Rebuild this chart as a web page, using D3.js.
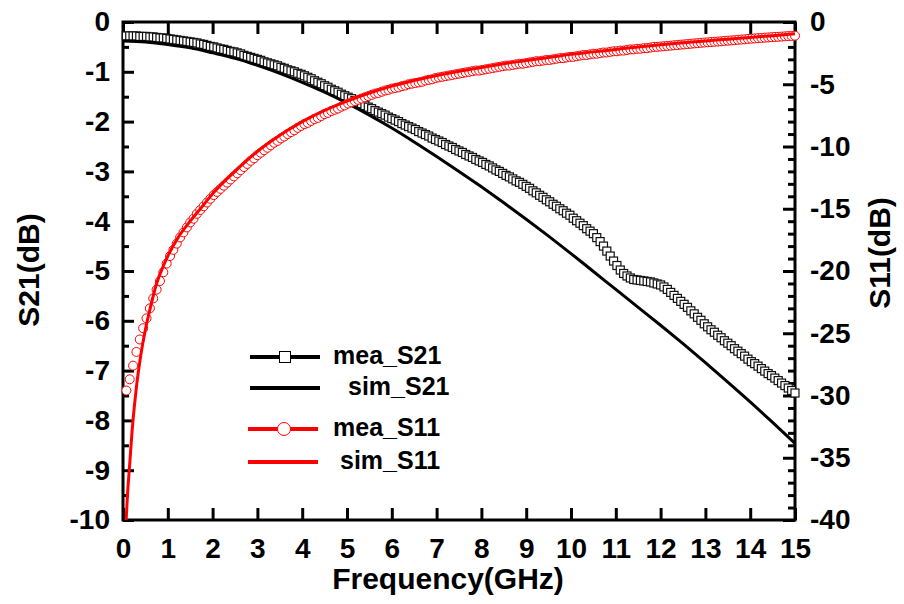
<!DOCTYPE html>
<html lang="en">
<head>
<meta charset="UTF-8">
<title>S21 / S11 vs Frequency</title>
<script src="https://d3js.org/d3.v7.min.js"></script>
<style>
  body { margin: 0; background: #fff; }
  text { font-family: "Liberation Sans", Arial, sans-serif; font-weight: bold; }
</style>
</head>
<body>
<div id="chart"></div>
<script>
// measured sweep: 200 points, 0.075 GHz apart
const sweepStep = 0.075;
const meaFreq = d3.range(1, 201).map(i => +(i * sweepStep).toFixed(3));

const meaS21 = [
  -0.28,-0.28,-0.28,-0.28,-0.29,-0.29,-0.29,-0.30,-0.30,-0.31,-0.32,-0.32,-0.33,
  -0.34,-0.35,-0.36,-0.37,-0.38,-0.39,-0.40,
  -0.41,-0.42,-0.44,-0.45,-0.47,-0.49,
  -0.50,-0.52,-0.54,-0.55,-0.57,-0.59,-0.60,
  -0.62,-0.64,-0.67,-0.69,-0.71,-0.73,-0.75,
  -0.77,-0.80,-0.82,-0.84,-0.86,-0.88,
  -0.91,-0.93,-0.96,-0.98,-1.00,-1.03,-1.05,
  -1.08,-1.11,-1.14,-1.18,-1.21,-1.24,
  -1.28,-1.31,-1.35,-1.38,-1.41,-1.45,-1.48,
  -1.51,-1.54,-1.58,-1.61,-1.64,-1.68,-1.71,
  -1.74,-1.78,-1.81,-1.84,-1.87,-1.91,-1.94,
  -1.97,-2.00,-2.04,-2.07,-2.10,-2.13,
  -2.16,-2.20,-2.23,-2.26,-2.29,-2.33,-2.36,
  -2.39,-2.42,-2.46,-2.49,-2.52,-2.56,-2.59,
  -2.62,-2.66,-2.69,-2.72,-2.76,-2.79,
  -2.82,-2.86,-2.89,-2.93,-2.97,-3.00,-3.04,
  -3.08,-3.11,-3.15,-3.19,-3.22,-3.26,-3.30,
  -3.34,-3.39,-3.43,-3.48,-3.52,-3.57,
  -3.61,-3.66,-3.70,-3.75,-3.79,-3.84,-3.88,
  -3.94,-3.99,-4.04,-4.09,-4.15,-4.20,
  -4.25,-4.33,-4.41,-4.50,-4.60,-4.70,-4.80,
  -4.89,-4.98,-5.05,-5.10,-5.14,-5.17,-5.18,
  -5.19,-5.20,-5.21,-5.22,-5.24,-5.26,-5.28,
  -5.32,-5.37,-5.43,-5.49,-5.55,-5.61,
  -5.67,-5.73,-5.80,-5.86,-5.93,-5.99,-6.06,
  -6.12,-6.18,-6.23,-6.29,-6.34,-6.40,
  -6.45,-6.50,-6.56,-6.61,-6.66,-6.71,-6.77,
  -6.82,-6.86,-6.91,-6.96,-7.01,-7.06,-7.10,
  -7.15,-7.20,-7.25,-7.30,-7.35,-7.40,-7.45
];

const meaS11 = [
  -29.6,-28.7,-27.6,-26.5,-25.5,-24.6,-23.8,-23.0,-22.2,-21.5,-20.8,-20.1,-19.4,
  -18.8,-18.3,-17.8,-17.3,-16.9,-16.5,-16.1,
  -15.8,-15.4,-15.1,-14.8,-14.5,-14.2,
  -13.9,-13.65,-13.4,-13.15,-12.9,-12.65,-12.4,
  -12.15,-11.9,-11.65,-11.4,-11.15,-10.95,-10.7,
  -10.5,-10.3,-10.1,-9.9,-9.7,-9.55,
  -9.35,-9.2,-9.0,-8.85,-8.7,-8.5,-8.35,
  -8.2,-8.1,-7.95,-7.8,-7.7,-7.55,
  -7.4,-7.3,-7.15,-7.05,-6.95,-6.8,-6.7,
  -6.55,-6.45,-6.35,-6.25,-6.15,-6.05,-5.95,
  -5.85,-5.75,-5.7,-5.6,-5.5,-5.45,-5.35,
  -5.3,-5.25,-5.15,-5.1,-5.0,-4.95,
  -4.9,-4.85,-4.8,-4.7,-4.65,-4.6,-4.5,
  -4.45,-4.4,-4.35,-4.3,-4.25,-4.2,-4.15,
  -4.1,-4.05,-4.0,-3.95,-3.9,-3.9,
  -3.85,-3.8,-3.75,-3.7,-3.65,-3.6,-3.55,
  -3.5,-3.5,-3.45,-3.4,-3.35,-3.35,-3.3,
  -3.25,-3.2,-3.15,-3.15,-3.1,-3.05,
  -3.05,-3.0,-2.95,-2.9,-2.9,-2.85,-2.8,
  -2.8,-2.75,-2.7,-2.65,-2.65,-2.6,
  -2.55,-2.55,-2.5,-2.45,-2.45,-2.4,-2.35,
  -2.35,-2.3,-2.3,-2.25,-2.2,-2.2,-2.15,
  -2.15,-2.1,-2.1,-2.05,-2.0,-2.0,-1.97,
  -1.95,-1.92,-1.9,-1.87,-1.85,-1.82,
  -1.8,-1.77,-1.75,-1.72,-1.7,-1.67,-1.65,
  -1.63,-1.61,-1.59,-1.57,-1.55,-1.52,
  -1.5,-1.48,-1.46,-1.43,-1.41,-1.39,-1.36,
  -1.34,-1.32,-1.3,-1.28,-1.26,-1.24,-1.22,
  -1.2,-1.19,-1.17,-1.15,-1.13,-1.12,-1.1
];

// simulated curves
const simS21Freq = [0,0.5,1,1.5,2,2.5,3,3.5,4,4.5,5,5.5,6,6.5,7,7.5,8,8.5,9,9.5,10,10.5,11,11.5,12,12.5,13,13.5,14,14.5,15];
const simS21 = [-0.38,-0.40,-0.45,-0.52,-0.62,-0.73,-0.87,-1.03,-1.21,-1.41,-1.63,-1.87,-2.13,-2.41,-2.70,-3.00,-3.31,-3.63,-3.96,-4.30,-4.65,-5.01,-5.37,-5.73,-6.09,-6.46,-6.84,-7.23,-7.63,-8.04,-8.46];

const simS11Freq = [0.07,0.1,0.15,0.2,0.25,0.3,0.4,0.5,0.6,0.75,0.9,1,1.25,1.5,1.75,2,2.5,3,3.5,4,4.5,5,5.5,6,6.5,7,7.5,8,8.5,9,9.5,10,10.5,11,11.5,12,12.5,13,13.5,14,14.5,15];
const simS11 = [-40,-38,-35.5,-33.0,-31.0,-29.3,-26.7,-24.7,-23.1,-21.0,-19.6,-18.8,-17.2,-16.0,-14.9,-13.8,-12.0,-10.4,-9.1,-8.0,-7.1,-6.35,-5.7,-5.15,-4.7,-4.3,-3.95,-3.65,-3.35,-3.1,-2.85,-2.6,-2.4,-2.2,-2.0,-1.83,-1.67,-1.52,-1.38,-1.24,-1.1,-0.95];

// ticks
const xTicks = [0,1,2,3,4,5,6,7,8,9,10,11,12,13,14,15];
const leftTicks = [0,-1,-2,-3,-4,-5,-6,-7,-8,-9,-10];
const leftMinor = [-0.5,-1.5,-2.5,-3.5,-4.5,-5.5,-6.5,-7.5,-8.5,-9.5];
const rightTicks = [0,-5,-10,-15,-20,-25,-30,-35,-40];

const legendItems = [
  { label: "mea_S21", color: "#000", marker: "square" },
  { label: "sim_S21", color: "#000", marker: null },
  { label: "mea_S11", color: "#ff0000", marker: "circle" },
  { label: "sim_S11", color: "#ff0000", marker: null }
];

const width = 904, height = 604;
const plotLeft = 123, plotRight = 795, plotTop = 22, plotBottom = 520;

const svg = d3.select("#chart").append("svg")
  .attr("width", width).attr("height", height)
  .style("background", "#fff");

const x = d3.scaleLinear().domain([0, 15]).range([plotLeft, plotRight]);
const yL = d3.scaleLinear().domain([-10, 0]).range([plotBottom, plotTop]);
const yR = d3.scaleLinear().domain([-40, 0]).range([plotBottom, plotTop]);

// plain hyphen minus like the original
const fmt = d => String(d);

function styleAxis(g) {
  g.select(".domain").remove();
  g.selectAll(".tick line").attr("stroke", "#000").attr("stroke-width", 3);
  g.selectAll(".tick text").attr("fill", "#000").style("font-size", "28px")
    .style("font-weight", "bold").style("font-family", '"Liberation Sans", Arial, sans-serif');
}

// bottom / top
svg.append("g").attr("transform", `translate(0,${plotBottom})`)
  .call(d3.axisBottom(x).tickValues(xTicks).tickSize(-12).tickPadding(18).tickFormat(fmt))
  .call(styleAxis);
svg.append("g").attr("transform", `translate(0,${plotTop})`)
  .call(d3.axisTop(x).tickValues(xTicks).tickSize(-12).tickFormat(""))
  .call(styleAxis);

// left
svg.append("g").attr("transform", `translate(${plotLeft},0)`)
  .call(d3.axisLeft(yL).tickValues(leftTicks).tickSize(-11).tickPadding(13).tickFormat(fmt))
  .call(styleAxis);
svg.append("g").attr("transform", `translate(${plotLeft},0)`)
  .call(d3.axisLeft(yL).tickValues(leftMinor).tickSize(-6).tickFormat(""))
  .call(styleAxis);

// right
const rightMinor = d3.range(-39, 0).filter(v => v % 5 !== 0);
svg.append("g").attr("transform", `translate(${plotRight},0)`)
  .call(d3.axisRight(yR).tickValues(rightTicks).tickSize(-12).tickPadding(15).tickFormat(fmt))
  .call(styleAxis);
svg.append("g").attr("transform", `translate(${plotRight},0)`)
  .call(d3.axisRight(yR).tickValues(rightMinor).tickSize(-7).tickFormat(""))
  .call(styleAxis);

// frame
svg.append("rect")
  .attr("x", plotLeft).attr("y", plotTop)
  .attr("width", plotRight - plotLeft).attr("height", plotBottom - plotTop)
  .attr("fill", "none").attr("stroke", "#000").attr("stroke-width", 3);

// measured S21 squares
const sq = 8;
svg.append("g").selectAll("rect")
  .data(meaFreq.map((f, i) => [f, meaS21[i]]))
  .join("rect")
  .attr("x", d => x(d[0]) - sq / 2)
  .attr("y", d => yL(d[1]) - sq / 2)
  .attr("width", sq).attr("height", sq)
  .attr("fill", "#fff").attr("stroke", "#111").attr("stroke-width", 1.2);

// simulated S21 line
const lineL = d3.line().x(d => x(d[0])).y(d => yL(d[1])).curve(d3.curveMonotoneX);
svg.append("path")
  .datum(simS21Freq.map((f, i) => [f, simS21[i]]))
  .attr("d", lineL)
  .attr("fill", "none").attr("stroke", "#000").attr("stroke-width", 3);

// measured S11 circles
svg.append("g").selectAll("circle")
  .data(meaFreq.map((f, i) => [f, meaS11[i]]))
  .join("circle")
  .attr("cx", d => x(d[0]))
  .attr("cy", d => yR(d[1]))
  .attr("r", 4.5)
  .attr("fill", "#fff").attr("stroke", "#ff0000").attr("stroke-width", 1);

// simulated S11 line
const lineR = d3.line().x(d => x(d[0])).y(d => yR(d[1])).curve(d3.curveMonotoneX);
svg.append("path")
  .datum(simS11Freq.map((f, i) => [f, simS11[i]]))
  .attr("d", lineR)
  .attr("fill", "none").attr("stroke", "#ff0000").attr("stroke-width", 3);

// axis titles
svg.append("text")
  .attr("transform", `translate(31,270) rotate(-90)`)
  .attr("text-anchor", "middle").attr("dominant-baseline", "middle")
  .style("font-size", "30px").text("S21(dB)");
svg.append("text")
  .attr("transform", `translate(882,253) rotate(-90)`)
  .attr("text-anchor", "middle").attr("dominant-baseline", "middle")
  .style("font-size", "30px").text("S11(dB)");
svg.append("text")
  .attr("x", 448).attr("y", 589)
  .attr("text-anchor", "middle")
  .style("font-size", "30px").text("Frequency(GHz)");

// legend
const legendRows = [357, 388, 429, 462];
const legendTextX = [333, 348, 333, 340];
const legend = svg.append("g");
legendItems.forEach((d, i) => {
  const y = legendRows[i];
  legend.append("line")
    .attr("x1", i < 2 ? 250 : 248).attr("x2", i < 2 ? 320 : 318)
    .attr("y1", y).attr("y2", y)
    .attr("stroke", d.color).attr("stroke-width", 4);
  if (d.marker === "square") {
    legend.append("rect")
      .attr("x", 285 - 5.5).attr("y", y - 5.5).attr("width", 11).attr("height", 11)
      .attr("fill", "#fff").attr("stroke", "#000").attr("stroke-width", 1);
  } else if (d.marker === "circle") {
    legend.append("circle")
      .attr("cx", 284).attr("cy", y).attr("r", 6.5)
      .attr("fill", "#fff").attr("stroke", d.color).attr("stroke-width", 1);
  }
  legend.append("text")
    .attr("x", legendTextX[i]).attr("y", y)
    .attr("dominant-baseline", "middle")
    .style("font-size", "25px").text(d.label);
});
</script>
</body>
</html>
